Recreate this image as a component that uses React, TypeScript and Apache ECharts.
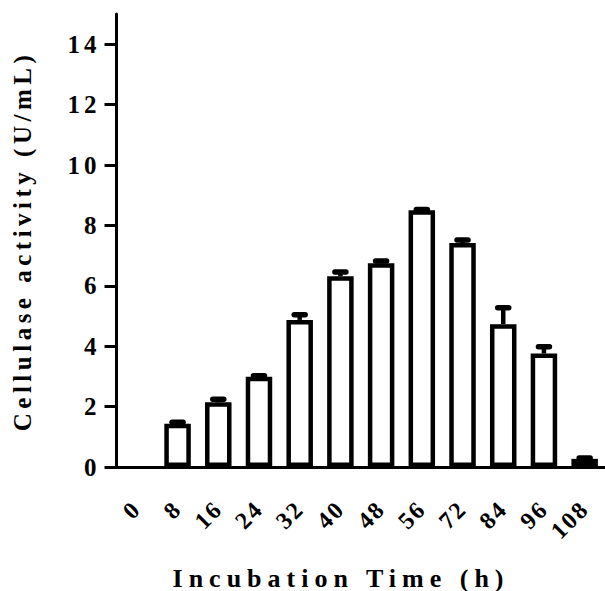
import { useEffect, useRef } from 'react';
import * as echarts from 'echarts';

// Incubation times (h) on the category axis
const hours = ['0', '8', '16', '24', '32', '40', '48', '56', '72', '84', '96', '108'];
// Mean cellulase activity (U/mL)
const activity = [0, 1.43, 2.14, 2.99, 4.87, 6.32, 6.75, 8.5, 7.42, 4.73, 3.76, 0.27];
// Upper error (U/mL)
const errorUp = [0, 0.05, 0.1, 0.03, 0.17, 0.14, 0.07, 0.03, 0.1, 0.54, 0.22, 0.03];
// Y-axis ticks
const yTicks = [0, 2, 4, 6, 8, 10, 12, 14];

const xTitle = 'Incubation Time (h)';
const yTitle = 'Cellulase activity (U/mL)';
const FONT = 'Liberation Serif, Times New Roman, serif';

export default function App() {
  const ref = useRef<HTMLDivElement>(null);

  useEffect(() => {
    if (!ref.current) return;
    const chart = echarts.init(ref.current, undefined, { renderer: 'svg' });
    chart.setOption({
      animation: false,
      grid: { left: 116.5, right: -4.6, top: 14, bottom: 124 },
      xAxis: {
        type: 'category',
        data: hours,
        axisLine: { lineStyle: { color: '#000', width: 3 } },
        axisTick: { alignWithLabel: true, length: 12, lineStyle: { color: '#000', width: 3 } },
        axisLabel: {
          interval: 0,
          rotate: 45,
          margin: 38,
          color: '#000',
          fontFamily: FONT,
          fontWeight: 'bold',
          fontSize: 24,
        },
      },
      yAxis: {
        type: 'value',
        min: 0,
        max: 15,
        splitLine: { show: false },
        axisLine: { show: true, lineStyle: { color: '#000', width: 3 } },
        axisTick: { show: true, length: 12, customValues: yTicks, lineStyle: { color: '#000', width: 3 } },
        axisLabel: {
          customValues: yTicks,
          margin: 16,
          color: '#000',
          fontFamily: FONT,
          fontWeight: 'bold',
          fontSize: 25,
        },
      },
      series: [
        {
          type: 'bar',
          // a zero reading leaves no outlined bar on the axis
          data: activity.map((v) => (v === 0 ? { value: v, itemStyle: { borderWidth: 0 } } : v)),
          barWidth: 26.5,
          itemStyle: { color: '#fff', borderColor: '#000', borderWidth: 4.5 },
          z: 2,
        },
        {
          type: 'custom',
          data: hours.map((_, i) => [i, activity[i], errorUp[i]]),
          encode: { x: 0, y: 1 },
          z: 3,
          renderItem: (_params: any, api: any) => {
            const idx = api.value(0);
            const v = api.value(1);
            const e = api.value(2);
            if (!v) return null;
            const base = api.coord([idx, v]);
            const top = api.coord([idx, v + e]);
            const half = 5.5;
            return {
              type: 'group',
              children: [
                {
                  type: 'line',
                  shape: { x1: base[0], y1: base[1], x2: top[0], y2: top[1] },
                  style: { stroke: '#000', lineWidth: 4.5 },
                },
                {
                  type: 'line',
                  shape: { x1: top[0] - half, y1: top[1], x2: top[0] + half, y2: top[1] },
                  style: { stroke: '#000', lineWidth: 5.5, lineCap: 'round' },
                },
              ],
            };
          },
        },
      ],
      graphic: [
        {
          type: 'text',
          x: 341,
          y: 578,
          style: {
            text: xTitle,
            align: 'center',
            verticalAlign: 'middle',
            font: `bold 26px ${FONT}`,
            fill: '#000',
          },
        },
        {
          type: 'text',
          x: 22.5,
          y: 241,
          rotation: Math.PI / 2,
          style: {
            text: yTitle,
            align: 'center',
            verticalAlign: 'middle',
            font: `bold 25px ${FONT}`,
            fill: '#000',
          },
        },
      ],
    });

    // Widen the tracking of the titles and tick labels
    ref.current.querySelectorAll('text').forEach((t) => {
      const s = t.textContent || '';
      const tr = t.getAttribute('transform') || '';
      if (s === xTitle) t.setAttribute('letter-spacing', '6');
      else if (s === yTitle) t.setAttribute('letter-spacing', '4.5');
      else if (/matrix\(0\.70/.test(tr)) t.setAttribute('letter-spacing', '2');
      else t.setAttribute('letter-spacing', '4');
    });

    return () => chart.dispose();
  }, []);

  return (
    <div
      ref={ref}
      style={{ position: 'absolute', left: 0, top: 0, width: 605, height: 591, background: '#fff' }}
    />
  );
}
